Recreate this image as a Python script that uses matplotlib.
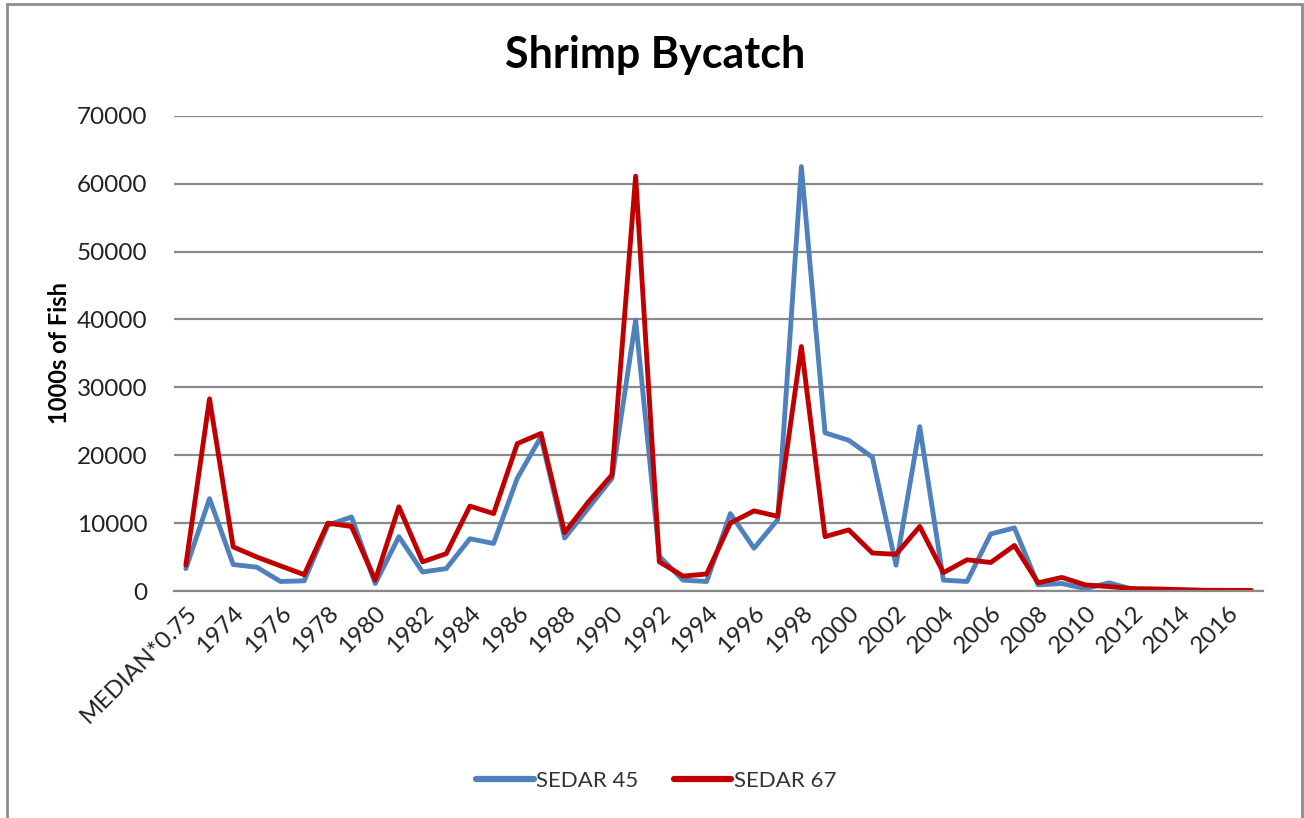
import matplotlib
matplotlib.use("Agg")
import matplotlib.pyplot as plt
from matplotlib.patches import Rectangle

categories = ["MEDIAN*0.75"] + [str(y) for y in range(1973, 2018)]
sedar45 = [3300, 13600, 3900, 3500, 1400, 1500, 9700, 10900, 1100, 8000,
           2800, 3300, 7700, 7000, 16600, 22700, 7800, 12200, 16600, 39900,
           5100, 1600, 1400, 11400, 6300, 10500, 62500, 23300, 22200, 19700,
           3800, 24200, 1600, 1400, 8400, 9300, 900, 1100, 350, 1200,
           250, 200, 150, 100, 80, 50]
sedar67 = [3800, 28300, 6500, 5000, 3700, 2400, 10000, 9500, 1600, 12400,
           4300, 5500, 12500, 11400, 21700, 23200, 8600, 13100, 17100, 61100,
           4300, 2200, 2500, 10000, 11800, 11000, 36000, 8000, 9000, 5600,
           5400, 9500, 2700, 4600, 4200, 6700, 1200, 2000, 900, 650,
           350, 300, 200, 100, 100, 90]
yticks = [0, 10000, 20000, 30000, 40000, 50000, 60000, 70000]

plt.rcParams['font.family'] = ['Lato', 'DejaVu Sans']

W, H = 1304, 818
fig = plt.figure(figsize=(W / 100, H / 100), dpi=100)
fig.patch.set_facecolor('white')

# outer chart border
fig.add_artist(Rectangle((7 / W, -0.01), (1302 - 7) / W, 1 - 4 / H + 0.01,
                         transform=fig.transFigure, fill=False,
                         edgecolor='#8c8c8c', linewidth=2))

left, right, top, bottom = 174, 1263, 115.7, 591
ax = fig.add_axes([left / W, 1 - bottom / H, (right - left) / W, (bottom - top) / H])

x = list(range(len(categories)))
ax.plot(x, sedar45, color='#4f81bd', linewidth=3.5, label='SEDAR 45',
        solid_joinstyle='round', solid_capstyle='round')
ax.plot(x, sedar67, color='#c00000', linewidth=3.5, label='SEDAR 67',
        solid_joinstyle='round', solid_capstyle='round')

ax.set_xlim(-0.5, len(categories) - 0.5)
ax.set_ylim(0, 70000)
ax.set_yticks(yticks)
ax.set_yticklabels([str(v) for v in yticks], fontsize=17.5, color='#222222')
ax.yaxis.grid(True, color='#8a8a8a', linewidth=1.6)
ax.set_axisbelow(True)
ax.tick_params(axis='y', length=0, pad=19)
ax.tick_params(axis='x', length=0, pad=8)

ax.set_xticks(x[::2])
ax.set_xticklabels(categories[::2], rotation=45, ha='right', va='top',
                   rotation_mode='anchor', fontsize=17.5, color='#222222')

for s in ['top', 'right', 'left']:
    ax.spines[s].set_visible(False)
ax.spines['bottom'].set_color('#8a8a8a')
ax.spines['bottom'].set_linewidth(1.6)

ax.set_ylabel('1000s of Fish', fontsize=17, fontweight='bold', labelpad=4)

fig.text(655 / W, 1 - 55 / H, 'Shrimp Bycatch', ha='center', va='center',
         fontsize=31, fontweight='bold', color='black')

leg = fig.legend(loc='center', bbox_to_anchor=(656 / W, 1 - 781 / H), ncol=2,
                 frameon=False, fontsize=16, handlelength=2.6, columnspacing=1.6,
                 handletextpad=0.1)
for line in leg.get_lines():
    line.set_linewidth(4.5)
for t in leg.get_texts():
    t.set_color('#333333')

fig.savefig('out.png', dpi=100, facecolor='white')
